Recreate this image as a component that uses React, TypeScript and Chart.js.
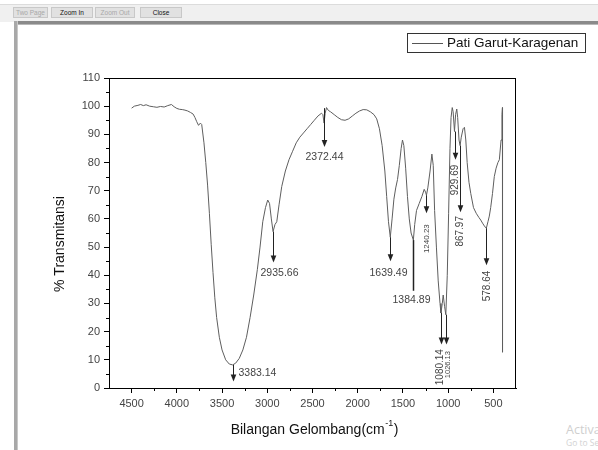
import React, { useEffect, useRef } from "react";
import { Chart, registerables } from "chart.js";

Chart.register(...registerables);

// ---- data ----
const wavenumbers = [
  4500, 4470, 4430, 4400, 4370, 4340, 4300, 4260, 4220, 4180, 4140, 4100, 4060, 4030, 4000,
  3970, 3940, 3910, 3880, 3850, 3820, 3800, 3780, 3760, 3740, 3725, 3700, 3680, 3660, 3640,
  3620, 3600, 3580, 3560, 3530, 3500, 3460, 3420, 3383, 3350, 3310, 3270, 3230, 3190, 3150,
  3110, 3080, 3050, 3020, 2995, 2975, 2955, 2936, 2915, 2895, 2870, 2840, 2800, 2760, 2720,
  2680, 2640, 2600, 2560, 2520, 2480, 2440, 2400, 2385, 2372, 2360, 2345, 2325, 2300, 2260,
  2220, 2180, 2140, 2100, 2060, 2020, 1980, 1940, 1900, 1860, 1820, 1790, 1760, 1730, 1700,
  1680, 1660, 1640, 1620, 1600, 1580, 1560, 1540, 1520, 1505, 1490, 1470, 1450, 1430, 1410,
  1385, 1370, 1350, 1320, 1290, 1265, 1250, 1240, 1225, 1200, 1180, 1165, 1150, 1130, 1110,
  1090, 1080, 1065, 1055, 1040, 1026, 1010, 995, 980, 968, 955, 945, 930, 918, 905,
  895, 880, 868, 855, 835, 820, 805, 790, 770, 750, 720, 690, 660, 640, 620,
  600, 578, 560, 545, 530, 510, 490, 470, 450, 434, 415, 405, 400, 399,
];
const transmittance = [
  99.3, 100.0, 100.3, 100.6, 100.2, 100.5, 100.0, 99.8, 99.6, 99.9, 99.7, 100.2, 100.6, 99.8, 99.2,
  98.9, 98.8, 98.6, 98.3, 97.8, 97.2, 96.0, 94.5, 93.2, 94.0, 93.5, 87, 80, 72, 62,
  51, 41, 32, 25, 18, 13.5, 10, 8.5, 8.2, 8.8, 10.5, 13.5, 18, 25, 33,
  42, 50, 59, 64, 66.7, 65.5, 60, 55.5, 58, 59, 65, 71.5, 77, 81, 84,
  87, 89, 90.5, 92, 93.5, 95, 96.5, 97.5, 97, 94, 97.5, 99.5, 98.5, 98, 97,
  96, 95.2, 95, 95.5, 96.5, 97.5, 98.3, 98.8, 98.7, 98, 97, 95.5, 92, 86, 77,
  68, 59, 53.5, 60, 67, 71, 74, 79, 85, 88, 86, 78, 68, 60, 55,
  52.5, 58, 63, 65.5, 68, 70.5, 69.5, 68.4, 71, 77, 83, 79, 63, 50, 38,
  30, 26.6, 30, 33, 29, 26, 40, 62, 85, 96, 99.5, 98, 91, 97, 99,
  96, 88, 86, 89, 92, 92.5, 88, 80, 73, 69, 64, 62, 60.5, 59.6, 58.5,
  57.5, 56.7, 59, 61, 64, 69, 75, 78, 80, 81, 88, 97, 99.5, 12.7,
];
const xTickValues = [4500, 4000, 3500, 3000, 2500, 2000, 1500, 1000, 500];
const xMinorTickValues = [4250, 3750, 3250, 2750, 2250, 1750, 1250, 750];
const yTickValues = [0, 10, 20, 30, 40, 50, 60, 70, 80, 90, 100, 110];
const yMinorTickValues = [5, 15, 25, 35, 45, 55, 65, 75, 85, 95, 105];

const peakLabels = ["3383.14", "2935.66", "2372.44", "1639.49", "1384.89", "1240.23", "1080.14", "1026.13", "929.69", "867.97", "578.64"];
const peakWavenumbers = [3383.14, 2935.66, 2372.44, 1639.49, 1384.89, 1240.23, 1080.14, 1026.13, 929.69, 867.97, 578.64];
const peakTransmittance = [8.2, 55.5, 99.3, 53.5, 52.5, 68.4, 26.6, 26.0, 91.0, 86.0, 56.7];

const seriesName = "Pati Garut-Karagenan";
const xTitle = "Bilangan Gelombang(cm";
const xTitleSup = "-1";
const yTitle = "% Transmitansi";

// annotation layout (arrow tip & label placement, in axis units / px offsets)
const annotLayout = [
  { to: 2.3, head: true, rot: false, size: 10.5, dx: 5, labelY: 5.2, align: "left" },
  { to: 44.5, head: true, rot: false, size: 10.5, dx: 6, labelY: 40.8, align: "center" },
  { to: 85.5, head: true, rot: false, size: 10.5, dx: 0, labelY: 82, align: "center" },
  { to: 45.0, head: true, rot: false, size: 10.5, dx: -2, labelY: 40.8, align: "center" },
  { to: 34.5, head: false, rot: false, size: 10.5, dx: -2, labelY: 31.2, align: "center" },
  { to: 62.0, head: true, rot: true, size: 8, dx: 0, labelY: 53.0, align: "center" },
  { to: 15.4, head: true, rot: true, size: 10, dx: -1, labelY: 7.4, align: "center" },
  { to: 15.4, head: true, rot: true, size: 7.5, dx: 1.5, labelY: 8.3, align: "center" },
  { to: 81.0, head: true, rot: true, size: 10, dx: 0, labelY: 73.8, align: "center" },
  { to: 62.4, head: true, rot: true, size: 10, dx: 0, labelY: 55.6, align: "center" },
  { to: 43.6, head: true, rot: true, size: 10, dx: 1, labelY: 36.2, align: "center" },
];

const FONT = '"Liberation Sans", Arial, sans-serif';

const decorPlugin = {
  id: "decor",
  afterDraw(chart: any) {
    const ctx: CanvasRenderingContext2D = chart.ctx;
    const xs = chart.scales.x;
    const ys = chart.scales.y;
    const a = chart.chartArea;
    ctx.save();
    // frame top/right
    ctx.strokeStyle = "#000";
    ctx.lineWidth = 1;
    ctx.beginPath();
    ctx.moveTo(a.left, Math.round(a.top) + 0.5);
    ctx.lineTo(a.right, Math.round(a.top) + 0.5);
    ctx.moveTo(Math.round(a.right) - 0.5, a.top);
    ctx.lineTo(Math.round(a.right) - 0.5, a.bottom);
    ctx.stroke();
    // minor ticks
    ctx.beginPath();
    xMinorTickValues.forEach((v) => {
      const px = Math.round(xs.getPixelForValue(v)) + 0.5;
      ctx.moveTo(px, a.bottom);
      ctx.lineTo(px, a.bottom + 3);
    });
    yMinorTickValues.forEach((v) => {
      const py = Math.round(ys.getPixelForValue(v)) + 0.5;
      ctx.moveTo(a.left, py);
      ctx.lineTo(a.left - 3, py);
    });
    ctx.stroke();

    // annotations
    peakLabels.forEach((label, i) => {
      const L = annotLayout[i];
      const px = Math.round(xs.getPixelForValue(peakWavenumbers[i])) + 0.5;
      const y1 = ys.getPixelForValue(peakTransmittance[i]);
      const y2 = ys.getPixelForValue(L.to);
      ctx.strokeStyle = "#222";
      ctx.fillStyle = "#222";
      ctx.lineWidth = L.head ? 1 : 1.5;
      ctx.beginPath();
      ctx.moveTo(px, y1);
      ctx.lineTo(px, L.head ? y2 - 5 : y2);
      ctx.stroke();
      if (L.head) {
        ctx.beginPath();
        ctx.moveTo(px - 2.8, y2 - 7);
        ctx.lineTo(px + 2.8, y2 - 7);
        ctx.lineTo(px, y2);
        ctx.closePath();
        ctx.fill();
      }
      ctx.fillStyle = "#444";
      ctx.font = `${L.size}px ${FONT}`;
      const ly = ys.getPixelForValue(L.labelY);
      if (L.rot) {
        ctx.save();
        ctx.translate(px + L.dx, ly);
        ctx.rotate(-Math.PI / 2);
        ctx.textAlign = "center";
        ctx.textBaseline = "middle";
        ctx.fillText(label, 0, 0);
        ctx.restore();
      } else {
        ctx.textAlign = L.align as CanvasTextAlign;
        ctx.textBaseline = "middle";
        ctx.fillText(label, px + L.dx, ly);
      }
    });

    // axis titles
    ctx.fillStyle = "#111";
    ctx.font = `14px ${FONT}`;
    const w1 = ctx.measureText(xTitle).width;
    ctx.font = `9px ${FONT}`;
    const w2 = ctx.measureText(xTitleSup).width;
    ctx.font = `14px ${FONT}`;
    const w3 = ctx.measureText(")").width;
    const total = w1 + w2 + w3 + 1;
    let sx = (a.left + a.right) / 2 + 2 - total / 2;
    const ty = 430;
    ctx.textAlign = "left";
    ctx.textBaseline = "middle";
    ctx.fillText(xTitle, sx, ty);
    sx += w1;
    ctx.font = `9px ${FONT}`;
    ctx.fillText(xTitleSup, sx + 0.5, ty - 6);
    sx += w2 + 1;
    ctx.font = `14px ${FONT}`;
    ctx.fillText(")", sx, ty);

    ctx.save();
    ctx.translate(60, 244);
    ctx.rotate(-Math.PI / 2);
    ctx.textAlign = "center";
    ctx.textBaseline = "middle";
    ctx.fillText(yTitle, 0, 0);
    ctx.restore();

    // legend
    ctx.fillStyle = "#fff";
    ctx.fillRect(407, 33, 178, 19);
    ctx.strokeStyle = "#333";
    ctx.lineWidth = 1;
    ctx.strokeRect(407.5, 33.5, 178, 19);
    ctx.strokeStyle = "#555";
    ctx.beginPath();
    ctx.moveTo(412, 43.5);
    ctx.lineTo(443, 43.5);
    ctx.stroke();
    ctx.fillStyle = "#111";
    ctx.font = `13.5px ${FONT}`;
    ctx.textAlign = "left";
    ctx.textBaseline = "middle";
    ctx.fillText(seriesName, 447, 43.5);
    ctx.restore();
  },
};

function ChromeButton({ left, width, text, disabled }: { left: number; width: number; text: string; disabled?: boolean }) {
  return (
    <div
      style={{
        position: "absolute",
        left,
        top: 7,
        width,
        height: 11,
        background: "#e1e1e1",
        border: "1px solid #c8c8c8",
        boxSizing: "border-box",
        fontFamily: '"Liberation Sans", Arial, sans-serif',
        fontSize: 6.5,
        lineHeight: "9px",
        textAlign: "center",
        color: disabled ? "#a8a8a8" : "#111",
        whiteSpace: "nowrap",
        overflow: "hidden",
      }}
    >
      {text}
    </div>
  );
}

export default function App() {
  const canvasRef = useRef<HTMLCanvasElement | null>(null);

  useEffect(() => {
    if (!canvasRef.current) return;
    const tickFont = { family: FONT, size: 11 };
    const chart = new Chart(canvasRef.current, {
      type: "line",
      data: {
        datasets: [
          {
            label: seriesName,
            data: wavenumbers.map((w, i) => ({ x: w, y: transmittance[i] })),
            borderColor: "#5e5e5e",
            borderWidth: 1,
            pointRadius: 0,
            tension: 0,
            fill: false,
          },
        ],
      },
      options: {
        animation: false,
        responsive: false,
        maintainAspectRatio: false,
        layout: { padding: { left: 0, right: 82, top: 78, bottom: 0 } },
        plugins: { legend: { display: false }, tooltip: { enabled: false } },
        scales: {
          x: {
            type: "linear",
            reverse: true,
            min: 250,
            max: 4750,
            afterBuildTicks: (s: any) => {
              s.ticks = xTickValues.map((v) => ({ value: v }));
            },
            afterFit: (s: any) => {
              s.height = 62;
            },
            grid: { drawOnChartArea: false, drawTicks: true, tickLength: 5, color: "#000" },
            border: { display: true, color: "#000", width: 1 },
            ticks: {
              font: tickFont,
              color: "#444",
              padding: 4,
              maxRotation: 0,
              autoSkip: false,
              callback: (v: any) => String(v),
            },
          },
          y: {
            type: "linear",
            min: 0,
            max: 110,
            afterBuildTicks: (s: any) => {
              s.ticks = yTickValues.map((v) => ({ value: v }));
            },
            afterFit: (s: any) => {
              s.width = 109;
            },
            grid: { drawOnChartArea: false, drawTicks: true, tickLength: 5, color: "#000" },
            border: { display: true, color: "#000", width: 1 },
            ticks: { font: tickFont, color: "#444", padding: 4, autoSkip: false, callback: (v: any) => String(v) },
          },
        },
      },
      plugins: [decorPlugin],
    });
    return () => chart.destroy();
  }, []);

  return (
    <div
      style={{
        position: "fixed",
        left: 0,
        top: 0,
        width: 598,
        height: 450,
        background: "#fff",
        overflow: "hidden",
      }}
    >
      <div style={{ position: "absolute", left: 0, top: 4, width: 598, height: 17, background: "#f0f0f0", borderTop: "1px solid #dcdcdc" }} />
      <ChromeButton left={13} width={35} text="Two Page" disabled />
      <ChromeButton left={51} width={42} text="Zoom In" />
      <ChromeButton left={95} width={40} text="Zoom Out" disabled />
      <ChromeButton left={140} width={42} text="Close" />
      <div style={{ position: "absolute", left: 15, top: 21, width: 583, height: 3, background: "#8a8a8a", borderBottom: "1px solid #b8b8b8" }} />
      <div style={{ position: "absolute", left: 14, top: 21, width: 3, height: 429, background: "#a8a8a8", borderRight: "1px solid #c8c8c8" }} />
      <div style={{ position: "absolute", left: 566, top: 421, fontFamily: '"Open Sans", "Noto Sans", sans-serif', fontSize: 12.5, color: "#cfcfcf", whiteSpace: "nowrap" }}>Activate Windows</div>
      <div style={{ position: "absolute", left: 566, top: 437, fontFamily: '"Open Sans", "Noto Sans", sans-serif', fontSize: 8.5, color: "#d2d2d2", whiteSpace: "nowrap" }}>Go to Settings to activate Windows.</div>
      <canvas
        ref={canvasRef}
        width={598}
        height={450}
        style={{ position: "absolute", left: 0, top: 0, width: 598, height: 450 }}
      />
    </div>
  );
}
